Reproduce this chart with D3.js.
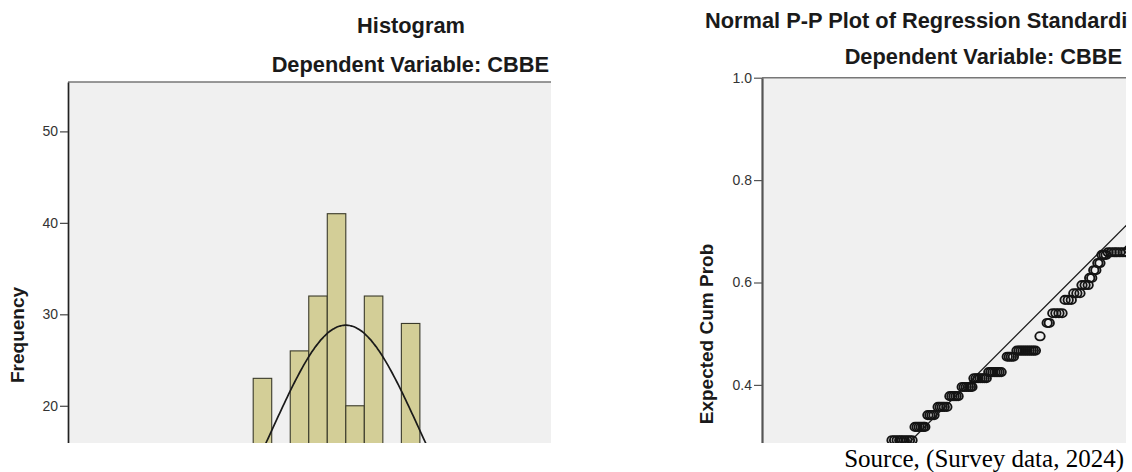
<!DOCTYPE html>
<html>
<head>
<meta charset="utf-8">
<script src="https://cdn.jsdelivr.net/npm/d3@7"></script>
<style>
  body { margin: 0; background: #fff; }
  svg text { font-family: Arial, "Liberation Sans", sans-serif; }
</style>
</head>
<body>
<div id="chart-container"></div>
<script>
// ---- histogram of the standardized residuals (bins 0.25 wide) ----
var binStarts = [-1.25, -1.0, -0.75, -0.5, -0.25, 0, 0.25, 0.5, 0.75];
var binFreq   = [23, 12, 26, 32, 41, 20, 32, 10, 29];
var binWidth  = 0.25;
var histTicks = [0, 10, 20, 30, 40, 50];

// normal curve laid over the histogram
var resMean = 0;
var resSd   = 0.99;
var resN    = 286;

// ---- normal P-P plot ----
var observedCum = [
  0.254, 0.259, 0.264, 0.269, 0.273, 0.278, 0.283, 0.288, 0.293,
  0.299, 0.303, 0.307, 0.311, 0.315, 0.318,
  0.324, 0.328, 0.332, 0.336,
  0.344, 0.348, 0.352, 0.356, 0.361,
  0.367, 0.371, 0.375, 0.379, 0.383,
  0.391, 0.395, 0.399, 0.403, 0.407, 0.410,
  0.414, 0.418, 0.422, 0.426, 0.430, 0.434, 0.438,
  0.443, 0.447, 0.451, 0.455, 0.459, 0.463, 0.467,
  0.479, 0.483, 0.487, 0.491,
  0.498, 0.502, 0.506, 0.510, 0.514, 0.518, 0.522, 0.526, 0.530, 0.534,
  0.543,
  0.557, 0.561,
  0.568, 0.574, 0.580, 0.586,
  0.592, 0.598, 0.604,
  0.609, 0.615, 0.621,
  0.625, 0.631, 0.637,
  0.640, 0.644,
  0.648, 0.652,
  0.656, 0.660,
  0.664, 0.668, 0.672,
  0.676, 0.682, 0.688, 0.693, 0.699, 0.705, 0.711,
  0.717
];
var expectedCum = [
  0.292, 0.292, 0.292, 0.292, 0.292, 0.292, 0.292, 0.292, 0.292,
  0.318, 0.318, 0.318, 0.318, 0.318, 0.318,
  0.341, 0.341, 0.341, 0.341,
  0.357, 0.357, 0.357, 0.357, 0.357,
  0.378, 0.378, 0.378, 0.378, 0.378,
  0.396, 0.396, 0.396, 0.396, 0.396, 0.396,
  0.413, 0.413, 0.413, 0.413, 0.413, 0.413, 0.413,
  0.425, 0.425, 0.425, 0.425, 0.425, 0.425, 0.425,
  0.455, 0.455, 0.455, 0.455,
  0.467, 0.467, 0.467, 0.467, 0.467, 0.467, 0.467, 0.467, 0.467, 0.467,
  0.495,
  0.521, 0.521,
  0.540, 0.540, 0.540, 0.540,
  0.566, 0.566, 0.566,
  0.579, 0.579, 0.579,
  0.595, 0.595, 0.595,
  0.609, 0.609,
  0.624, 0.624,
  0.638, 0.638,
  0.654, 0.654, 0.654,
  0.659, 0.659, 0.659, 0.659, 0.659, 0.659, 0.659,
  0.664
];
var ppTicks = [0, 0.2, 0.4, 0.6, 0.8, 1.0];

(function () {

    var width = 1132, height = 472;
    var cropBottom = 443;   // the picture is cut off here
    var titleSize = '21.8px';

    var svg = d3.select('#chart-container')
        .append('svg')
            .attr('width', width)
            .attr('height', height);

    var defs = svg.append('defs');

    function clipRect(id, x0, y0, x1, y1) {
        defs.append('clipPath').attr('id', id)
            .append('rect')
                .attr('x', x0).attr('y', y0)
                .attr('width', x1 - x0).attr('height', y1 - y0);
        return 'url(#' + id + ')';
    }

    // ================= left panel: histogram =================
    var hx = d3.scaleLinear()
        .domain([-3.75, 2.77])
        .range([68, 551]);

    var hy = d3.scaleLinear()
        .domain([0, 55.4])
        .range([588.7, 82]);

    var left = svg.append('g');

    left.append('rect')
        .attr('x', hx.range()[0])
        .attr('y', hy.range()[1])
        .attr('width', hx.range()[1] - hx.range()[0])
        .attr('height', cropBottom - hy.range()[1])
        .attr('fill', '#f0f0f0');

    var histPlot = left.append('g')
        .attr('clip-path', clipRect('clipHist', hx.range()[0], hy.range()[1], hx.range()[1], cropBottom));

    histPlot.selectAll('rect.bar')
        .data(binStarts)
        .enter().append('rect')
            .attr('class', 'bar')
            .attr('x', function (d) { return hx(d); })
            .attr('y', function (d, i) { return hy(binFreq[i]); })
            .attr('width', function (d) { return hx(d + binWidth) - hx(d); })
            .attr('height', function (d, i) { return hy(0) - hy(binFreq[i]); })
            .attr('fill', '#d3ce97')
            .attr('stroke', '#3a3a2a')
            .attr('stroke-width', 1.1);

    // normal curve: N * binWidth * pdf
    var curveX = d3.range(hx.domain()[0], hx.domain()[1], 0.02);
    var line = d3.line()
        .x(function (d) { return hx(d); })
        .y(function (d) {
            var z = (d - resMean) / resSd;
            return hy(resN * binWidth * Math.exp(-z * z / 2) / (resSd * Math.sqrt(2 * Math.PI)));
        })
        .curve(d3.curveBasis);

    histPlot.append('path')
        .datum(curveX)
        .attr('d', line)
        .attr('fill', 'none')
        .attr('stroke', '#1a1a1a')
        .attr('stroke-width', 1.7);

    // top frame line
    left.append('line')
        .attr('x1', hx.range()[0]).attr('x2', hx.range()[1])
        .attr('y1', hy.range()[1]).attr('y2', hy.range()[1])
        .attr('stroke', '#777')
        .attr('stroke-width', 1.6);

    // only the ticks that fall above the crop line
    var hAxis = left.append('g')
        .attr('transform', 'translate(' + hx.range()[0] + ',0)')
        .attr('clip-path', clipRect('clipHistAxis', -80, 0, 20, cropBottom))
        .call(d3.axisLeft(hy)
            .tickValues(histTicks.filter(function (d) { return hy(d) < cropBottom; }))
            .tickSize(8).tickSizeOuter(0).tickPadding(2));

    hAxis.select('.domain').attr('stroke', '#222').attr('stroke-width', 1.7);
    hAxis.selectAll('.tick line').attr('stroke', '#444').attr('stroke-width', 1.2);
    hAxis.selectAll('.tick text')
        .attr('fill', '#333')
        .style('font-size', '14px');

    left.append('text')
        .attr('transform', 'translate(24,335) rotate(-90)')
        .attr('text-anchor', 'middle')
        .style('font-size', '19px')
        .style('font-weight', 'bold')
        .attr('fill', '#1a1a1a')
        .text('Frequency');

    left.append('text')
        .attr('x', 411).attr('y', 33)
        .attr('text-anchor', 'middle')
        .style('font-size', titleSize)
        .style('font-weight', 'bold')
        .attr('fill', '#1a1a1a')
        .text('Histogram');

    left.append('text')
        .attr('x', 549).attr('y', 72)
        .attr('text-anchor', 'end')
        .style('font-size', titleSize)
        .style('font-weight', 'bold')
        .attr('fill', '#1a1a1a')
        .text('Dependent Variable: CBBE');

    // ================= right panel: P-P plot =================
    var px = d3.scaleLinear()
        .domain([0, 1])
        .range([762, 1274]);

    var py = d3.scaleLinear()
        .domain([0, 1])
        .range([589.7, 77.7]);

    var rightEdge = 1126;

    var right = svg.append('g');

    right.append('rect')
        .attr('x', px.range()[0])
        .attr('y', py.range()[1])
        .attr('width', rightEdge - px.range()[0])
        .attr('height', cropBottom - py.range()[1])
        .attr('fill', '#f0f0f0');

    var ppPlot = right.append('g')
        .attr('clip-path', clipRect('clipPP', px.range()[0], py.range()[1], rightEdge, cropBottom));

    // reference diagonal
    ppPlot.append('line')
        .attr('x1', px(0)).attr('y1', py(0))
        .attr('x2', px(1)).attr('y2', py(1))
        .attr('stroke', '#1a1a1a')
        .attr('stroke-width', 1.3);

    ppPlot.selectAll('ellipse')
        .data(observedCum)
        .enter().append('ellipse')
            .attr('cx', function (d) { return px(d); })
            .attr('cy', function (d, i) { return py(expectedCum[i]); })
            .attr('rx', 4.7)
            .attr('ry', 4.1)
            .attr('fill', 'none')
            .attr('stroke', '#141414')
            .attr('stroke-width', 1.9);

    right.append('line')
        .attr('x1', px.range()[0]).attr('x2', rightEdge)
        .attr('y1', py.range()[1]).attr('y2', py.range()[1])
        .attr('stroke', '#777')
        .attr('stroke-width', 1.6);

    var pAxis = right.append('g')
        .attr('transform', 'translate(' + px.range()[0] + ',0)')
        .attr('clip-path', clipRect('clipPPAxis', -80, 0, 20, cropBottom))
        .call(d3.axisLeft(py)
            .tickValues(ppTicks.filter(function (d) { return py(d) < cropBottom; }))
            .tickSize(8).tickSizeOuter(0).tickPadding(2)
            .tickFormat(d3.format('.1f')));

    pAxis.select('.domain').attr('stroke', '#555').attr('stroke-width', 2.2);
    pAxis.selectAll('.tick line').attr('stroke', '#555').attr('stroke-width', 1.2);
    pAxis.selectAll('.tick text')
        .attr('fill', '#333')
        .style('font-size', '14px');

    right.append('text')
        .attr('transform', 'translate(713,334) rotate(-90)')
        .attr('text-anchor', 'middle')
        .style('font-size', '19px')
        .style('font-weight', 'bold')
        .attr('fill', '#1a1a1a')
        .text('Expected Cum Prob');

    // the source picture is cropped at the chart's right edge, title included
    right.append('text')
        .attr('x', 705).attr('y', 28)
        .attr('clip-path', clipRect('clipTitle', 690, 0, rightEdge + 1, 40))
        .style('font-size', titleSize)
        .style('font-weight', 'bold')
        .attr('fill', '#1a1a1a')
        .text('Normal P-P Plot of Regression Standardized Residual');

    right.append('text')
        .attr('x', 1122).attr('y', 64)
        .attr('text-anchor', 'end')
        .style('font-size', titleSize)
        .style('font-weight', 'bold')
        .attr('fill', '#1a1a1a')
        .text('Dependent Variable: CBBE');

    // source note under the cropped charts
    svg.append('text')
        .attr('x', 1124).attr('y', 467)
        .attr('text-anchor', 'end')
        .style('font-family', '"Liberation Serif", "Times New Roman", serif')
        .style('font-size', '25px')
        .attr('fill', '#000')
        .text('Source, (Survey data, 2024)');

})();
</script>
</body>
</html>
